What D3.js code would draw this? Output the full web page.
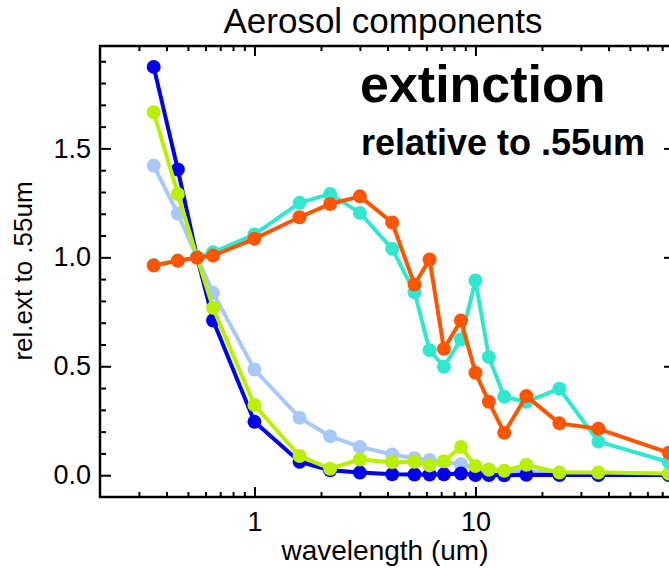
<!DOCTYPE html>
<html>
<head>
<meta charset="utf-8">
<script src="https://cdn.jsdelivr.net/npm/d3@7"></script>
<style>
  body { margin: 0; background: #fff; }
  text { font-family: "Liberation Sans", Arial, sans-serif; fill: #000; }
</style>
</head>
<body>
<div id="vis"></div>
<script>
///////data/////////////////////////////////////////////////
var wavelengths = [0.35, 0.45, 0.55, 0.65, 1.0, 1.6, 2.2, 3.0, 4.2, 5.3, 6.2, 7.2, 8.6, 10, 11.5, 13.5, 17, 24, 36, 75]

var lightBlue = [1.421, 1.201, 1.0, 0.837, 0.485, 0.264, 0.179, 0.13, 0.095, 0.078, 0.07, 0.06, 0.05, 0.032, 0.026, 0.02, 0.018, 0.012, 0.01, 0.006]
var darkBlue  = [1.874, 1.403, 1.0, 0.71, 0.245, 0.062, 0.023, 0.012, 0.004, 0.003, 0.003, 0.004, 0.008, 0.001, 0.001, 0.0, 0.002, 0.001, 0.001, 0.001]
var yellowGreen = [1.666, 1.291, 1.0, 0.768, 0.322, 0.088, 0.03, 0.072, 0.06, 0.062, 0.045, 0.064, 0.13, 0.042, 0.025, 0.02, 0.048, 0.012, 0.012, 0.008]
var turquoise = [0.965, 0.985, 1.0, 1.023, 1.105, 1.25, 1.291, 1.204, 1.039, 0.84, 0.574, 0.498, 0.623, 0.894, 0.542, 0.36, 0.337, 0.397, 0.154, 0.06]
var orange    = [0.962, 0.984, 0.998, 1.008, 1.085, 1.184, 1.245, 1.28, 1.16, 0.875, 0.99, 0.58, 0.71, 0.47, 0.337, 0.195, 0.363, 0.238, 0.213, 0.103]

var seriesList = [lightBlue, darkBlue, yellowGreen, turquoise, orange]
var seriesColors = ["#a8c8fa", "#0000ee", "#b8f000", "#30e8d0", "#ff5500"]

var xMajor = [1, 10]
var xMinor = [0.3, 0.4, 0.5, 0.6, 0.7, 0.8, 0.9, 2, 3, 4, 5, 6, 7, 8, 9, 20, 30, 40, 50, 60, 70]
var yMajor = [0.0, 0.5, 1.0, 1.5]
var yMinor = [0.1, 0.2, 0.3, 0.4, 0.6, 0.7, 0.8, 0.9, 1.1, 1.2, 1.3, 1.4, 1.6, 1.7, 1.8, 1.9]

///////setting up/////////////////////////////////////////////////
var width = 669
var height = 568
var plotLeft = 100, plotRight = 675, plotTop = 46, plotBottom = 497

const svg = d3.select("#vis")
  .append("svg")
  .attr("width", width)
  .attr("height", height)

const x = d3.scaleLog().domain([0.2, 80]).range([plotLeft, plotRight])
const y = d3.scaleLinear().domain([-0.1, 1.97]).range([plotBottom, plotTop])

////////axes//////////////////////////////////////////////////////
function styleAxis(g) {
  g.select(".domain").remove()
  g.selectAll(".tick line").attr("stroke", "#000").attr("stroke-width", 2)
  g.selectAll(".tick text").attr("font-size", 27).attr("fill", "#000")
    .attr("font-family", "Liberation Sans, Arial, sans-serif")
}

svg.append("g").attr("transform", `translate(0,${plotBottom})`)
  .call(d3.axisBottom(x).tickValues(xMajor).tickSize(-10).tickPadding(15).tickFormat(d3.format("d")))
  .call(styleAxis)
svg.append("g").attr("transform", `translate(0,${plotBottom})`)
  .call(d3.axisBottom(x).tickValues(xMinor).tickSize(-5).tickFormat(""))
  .call(styleAxis)
svg.append("g").attr("transform", `translate(0,${plotTop})`)
  .call(d3.axisTop(x).tickValues(xMajor).tickSize(-10).tickFormat(""))
  .call(styleAxis)
svg.append("g").attr("transform", `translate(0,${plotTop})`)
  .call(d3.axisTop(x).tickValues(xMinor).tickSize(-5).tickFormat(""))
  .call(styleAxis)

svg.append("g").attr("transform", `translate(${plotLeft},0)`)
  .call(d3.axisLeft(y).tickValues(yMajor).tickSize(-11).tickPadding(9).tickFormat(d3.format(".1f")))
  .call(styleAxis)
svg.append("g").attr("transform", `translate(${plotLeft},0)`)
  .call(d3.axisLeft(y).tickValues(yMinor).tickSize(-6).tickFormat(""))
  .call(styleAxis)
svg.append("g").attr("transform", `translate(${plotRight},0)`)
  .call(d3.axisRight(y).tickValues(yMajor).tickSize(-11).tickFormat(""))
  .call(styleAxis)
svg.append("g").attr("transform", `translate(${plotRight},0)`)
  .call(d3.axisRight(y).tickValues(yMinor).tickSize(-6).tickFormat(""))
  .call(styleAxis)

// frame
svg.append("rect")
  .attr("x", plotLeft).attr("y", plotTop)
  .attr("width", plotRight - plotLeft).attr("height", plotBottom - plotTop)
  .attr("fill", "none").attr("stroke", "#000").attr("stroke-width", 2.5)

////////series////////////////////////////////////////////////////
const line = d3.line()
  .x((d, i) => x(wavelengths[i]))
  .y(d => y(d))

seriesList.forEach(function(vals, k) {
  var g = svg.append("g")
  g.append("path")
    .datum(vals)
    .attr("d", line)
    .attr("fill", "none")
    .attr("stroke", seriesColors[k])
    .attr("stroke-width", 4)
    .attr("stroke-linejoin", "round")
  g.selectAll("circle")
    .data(vals)
    .join("circle")
    .attr("cx", (d, i) => x(wavelengths[i]))
    .attr("cy", d => y(d))
    .attr("r", 7)
    .attr("fill", seriesColors[k])
})

////////labels////////////////////////////////////////////////////
svg.append("text")
  .attr("x", 383).attr("y", 33)
  .attr("text-anchor", "middle")
  .attr("font-size", 35)
  .text("Aerosol components")

svg.append("text")
  .attr("x", 385).attr("y", 560)
  .attr("text-anchor", "middle")
  .attr("font-size", 28)
  .text("wavelength (um)")

svg.append("text")
  .attr("transform", "translate(32,271) rotate(-90)")
  .attr("text-anchor", "middle")
  .attr("font-size", 26)
  .text("rel.ext to .55um")

svg.append("text")
  .attr("x", 360).attr("y", 102)
  .attr("font-size", 52)
  .attr("font-weight", "bold")
  .text("extinction")

svg.append("text")
  .attr("x", 361).attr("y", 155)
  .attr("font-size", 36)
  .attr("font-weight", "bold")
  .text("relative to .55um")
</script>
</body>
</html>
